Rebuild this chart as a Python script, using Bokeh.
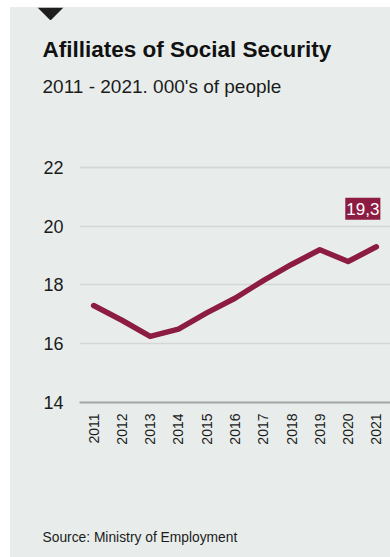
import math
from bokeh.plotting import figure
from bokeh.models import Label, FixedTicker, Spacer, Range1d, Title, Span
from bokeh.layouts import row, column
from bokeh.embed import file_html
from bokeh.resources import INLINE

years = [2011, 2012, 2013, 2014, 2015, 2016, 2017, 2018, 2019, 2020, 2021]
affiliates = [17.3, 16.8, 16.25, 16.5, 17.05, 17.55, 18.15, 18.7, 19.2, 18.8, 19.3]
y_ticks = [14, 16, 18, 20, 22]
title_text = "Afilliates of Social Security"
subtitle_text = "2011 - 2021. 000's of people"
source_text = "Source: Ministry of Employment"
last_label = "19,3"

BG = "#e8edeb"
LINE = "#8c1c42"
TXT = "#1b1b1b"
GRID = "#d4d7d6"
FONT = "Liberation Sans"

# small strip holding the black marker triangle
tri = figure(width=380, height=13, output_backend="svg", toolbar_location=None,
             x_axis_type=None, y_axis_type=None,
             x_range=Range1d(0, 380), y_range=Range1d(13, 0), min_border=0,
             styles={"background-color": BG})
tri.grid.visible = False
tri.border_fill_color = BG
tri.background_fill_color = None
tri.outline_line_color = None
tri.patch([27, 53, 40], [0, 0, 13], fill_color="#1e1e1e", line_color=None)

# main chart (y range padded slightly at the top so the 22 gridline is not clipped)
p = figure(width=380, height=537, output_backend="svg", toolbar_location=None,
           x_range=Range1d(2010.5, 2021.5), y_range=Range1d(14, 22.102),
           min_border_left=69, min_border_right=0, min_border_top=144, min_border_bottom=155,
           styles={"background-color": BG})
p.border_fill_color = BG
p.background_fill_color = None
p.outline_line_color = None

# top gridline drawn explicitly
p.add_layout(Span(location=y_ticks[-1], dimension="width", line_color=GRID,
                  line_width=1.5, level="underlay"))

p.line(years, affiliates, line_color=LINE, line_width=5.5, line_cap="round", line_join="round")

p.xaxis.ticker = FixedTicker(ticks=years)
p.xaxis.major_label_orientation = math.pi / 2
p.xaxis.major_tick_line_color = None
p.xaxis.major_tick_out = 0
p.xaxis.major_tick_in = 0
p.xaxis.minor_tick_line_color = None
p.xaxis.axis_line_color = "#a3a6a5"
p.xaxis.axis_line_width = 2
p.xaxis.major_label_text_font = FONT
p.xaxis.major_label_text_font_size = "14px"
p.xaxis.major_label_text_color = TXT
p.xaxis.major_label_standoff = 11

p.yaxis.ticker = FixedTicker(ticks=y_ticks)
p.yaxis.major_tick_line_color = None
p.yaxis.major_tick_out = 0
p.yaxis.major_tick_in = 0
p.yaxis.minor_tick_line_color = None
p.yaxis.axis_line_color = None
p.yaxis.major_label_text_font = FONT
p.yaxis.major_label_text_font_size = "18px"
p.yaxis.major_label_text_color = TXT
p.yaxis.major_label_standoff = 16

p.xgrid.grid_line_color = None
p.ygrid.ticker = FixedTicker(ticks=y_ticks)
p.ygrid.grid_line_color = GRID
p.ygrid.grid_line_width = 1.5

p.add_layout(Label(x=years[-1], y=affiliates[-1], text=last_label, x_offset=4, y_offset=38,
                   text_align="right", text_baseline="middle", text_font=FONT,
                   text_font_size="17px", text_color="white",
                   background_fill_color=LINE, padding=(1, 5)))

# header texts (stacked outward from the frame: spacer, subtitle, title)
p.add_layout(Title(text=" ", text_font_size="10px", standoff=55), "above")
p.add_layout(Title(text=subtitle_text, align="left", offset=-37, standoff=0,
                   text_font=FONT, text_font_style="normal", text_font_size="19px",
                   text_color=TXT), "above")
p.add_layout(Title(text=title_text, align="left", offset=-37, standoff=24,
                   text_font=FONT, text_font_style="bold", text_font_size="22.5px",
                   text_color="#111111"), "above")

# footer (after the x axis: spacer, source)
p.add_layout(Title(text=" ", text_font_size="10px", standoff=67), "below")
p.add_layout(Title(text=source_text, align="left", offset=-37, standoff=0,
                   text_font=FONT, text_font_style="normal", text_font_size="13.8px",
                   text_color=TXT), "below")

layout = row(Spacer(width=10, height=557),
             column(Spacer(width=380, height=7), row(tri), p))
open("out.html", "w").write(file_html(layout, INLINE))
